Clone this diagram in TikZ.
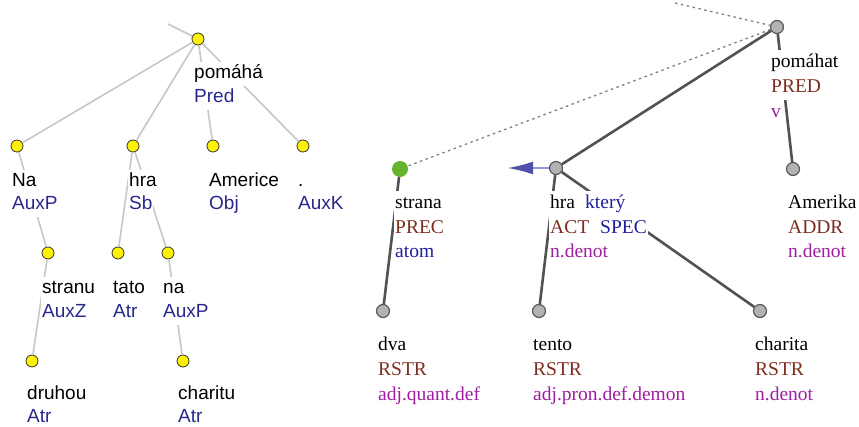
\documentclass[tikz,border=0pt]{standalone}
\usepackage{fontspec}
\usetikzlibrary{arrows.meta}
\newfontfamily\asans{Liberation Sans}
\newfontfamily\tserif{Liberation Serif}
\definecolor{afunblue}{RGB}{40,40,140}
\definecolor{funcbrown}{RGB}{125,45,30}
\definecolor{gramviolet}{RGB}{160,30,160}
\definecolor{attrblue}{RGB}{30,30,160}
\definecolor{nodegreen}{RGB}{100,180,45}
\definecolor{arrshaft}{RGB}{150,150,210}
\definecolor{arrhead}{RGB}{80,80,170}
\tikzset{
  anode/.style={circle,draw=black!80,fill=yellow,line width=0.8pt,minimum size=12pt,inner sep=0pt},
  tnode/.style={circle,draw=black!65,fill=black!30,line width=1.2pt,minimum size=13pt,inner sep=0pt},
  gnode/.style={circle,fill=nodegreen,minimum size=16pt,inner sep=0pt},
  aedge/.style={draw=black!22,line width=1.6pt},
  tedge/.style={draw=black!68,line width=2.6pt},
  dedge/.style={draw=black!50,line width=1.3pt,dash pattern=on 2.5pt off 3.5pt},
  alab/.style={anchor=base west,fill=white,inner xsep=1pt,inner ysep=2.5pt,text height=14pt,text depth=5pt,
    font=\asans\fontsize{19}{24}\selectfont},
  tlab/.style={anchor=base west,fill=white,inner xsep=1pt,inner ysep=2.25pt,text height=15pt,text depth=5.5pt,
    font=\tserif\fontsize{19.5}{25}\selectfont},
}
\begin{document}
\begin{tikzpicture}[x=1pt,y=-1pt]
  \useasboundingbox[fill=white] (0,0) rectangle (859,426);
  % analytical tree
  \coordinate (atop) at (168,24);
  \node[anode] (pomaha) at (198,39) {};
  \node[anode] (na) at (17,146) {};
  \node[anode] (hra) at (133,146) {};
  \node[anode] (americe) at (213,146) {};
  \node[anode] (tecka) at (303,146) {};
  \node[anode] (stranu) at (48,253) {};
  \node[anode] (tato) at (118,253) {};
  \node[anode] (nap) at (168,253) {};
  \node[anode] (druhou) at (32,361) {};
  \node[anode] (charitu) at (183,361) {};
  \draw[aedge] (atop) -- (pomaha);
  \foreach \c in {na,hra,americe,tecka} \draw[aedge] (pomaha) -- (\c);
  \draw[aedge] (na) -- (stranu);
  \draw[aedge] (stranu) -- (druhou);
  \draw[aedge] (hra) -- (tato);
  \draw[aedge] (hra) -- (nap);
  \draw[aedge] (nap) -- (charitu);
  \node[alab] (l-pomaha) at (193,78) {pomáhá};
  \node[alab,text=afunblue] (f-pomaha) at (193,102) {Pred};
  \node[alab] (l-na) at (11,186) {Na};
  \node[alab,text=afunblue] (f-na) at (11,209) {AuxP};
  \node[alab] (l-hra) at (128,186) {hra};
  \node[alab,text=afunblue] (f-hra) at (128,209) {Sb};
  \node[alab] (l-americe) at (208,186) {Americe};
  \node[alab,text=afunblue] (f-americe) at (208,209) {Obj};
  \node[alab] (l-tecka) at (297,186) {.};
  \node[alab,text=afunblue] (f-tecka) at (297,209) {AuxK};
  \node[alab] (l-stranu) at (41,293) {stranu};
  \node[alab,text=afunblue] (f-stranu) at (41,317) {AuxZ};
  \node[alab] (l-tato) at (112,293) {tato};
  \node[alab,text=afunblue] (f-tato) at (112,317) {Atr};
  \node[alab] (l-nap) at (162,293) {na};
  \node[alab,text=afunblue] (f-nap) at (162,317) {AuxP};
  \node[alab] (l-druhou) at (26,399) {druhou};
  \node[alab,text=afunblue] (f-druhou) at (26,422) {Atr};
  \node[alab] (l-charitu) at (177,399) {charitu};
  \node[alab,text=afunblue] (f-charitu) at (177,422) {Atr};
  % tectogrammatical tree
  \coordinate (ttop) at (675,3);
  \coordinate (korefend) at (507,168);
  \node[tnode] (pomahat) at (777,27) {};
  \node[gnode] (strana) at (400,169) {};
  \node[tnode] (hrat) at (556,168) {};
  \node[tnode] (amerika) at (793,169) {};
  \node[tnode] (dva) at (383,311) {};
  \node[tnode] (tento) at (539,311) {};
  \node[tnode] (charita) at (760,311) {};
  \draw[dedge] (ttop) -- (pomahat);
  \draw[dedge] (pomahat) -- (strana);
  \draw[tedge] (pomahat) -- (hrat);
  \draw[tedge] (pomahat) -- (amerika);
  \draw[tedge] (strana) -- (dva);
  \draw[tedge] (hrat) -- (tento);
  \draw[tedge] (hrat) -- (charita);
  \draw[draw=arrshaft,line width=2.5pt,-{Latex[length=26pt,width=13pt,color=arrhead]}] (hrat) -- (korefend);
  \node[tlab] (t-pomahat) at (770,67) {pomáhat};
  \node[tlab,text=funcbrown] (fn-pomahat) at (770,92) {PRED};
  \node[tlab,text=gramviolet] (g-pomahat) at (770,117) {v};
  \node[tlab] (t-strana) at (394,208) {strana};
  \node[tlab,text=funcbrown] (fn-strana) at (394,233) {PREC};
  \node[tlab,text=attrblue] (g-strana) at (394,257) {atom};
  \node[tlab] (t-hra) at (549,208) {hra};
  \node[tlab,text=attrblue] (k-hra) at (584,208) {který};
  \node[tlab,text=funcbrown] (fn-hra) at (549,233) {ACT};
  \node[tlab,text=attrblue] (s-hra) at (599,233) {SPEC};
  \node[tlab,text=gramviolet] (g-hra) at (549,257) {n.denot};
  \node[tlab] (t-amerika) at (787,208) {Amerika};
  \node[tlab,text=funcbrown] (fn-amerika) at (787,233) {ADDR};
  \node[tlab,text=gramviolet] (g-amerika) at (787,257) {n.denot};
  \node[tlab] (t-dva) at (377,350) {dva};
  \node[tlab,text=funcbrown] (fn-dva) at (377,375) {RSTR};
  \node[tlab,text=gramviolet] (g-dva) at (377,400) {adj.quant.def};
  \node[tlab] (t-tento) at (532,350) {tento};
  \node[tlab,text=funcbrown] (fn-tento) at (532,375) {RSTR};
  \node[tlab,text=gramviolet] (g-tento) at (532,400) {adj.pron.def.demon};
  \node[tlab] (t-charita) at (754,350) {charita};
  \node[tlab,text=funcbrown] (fn-charita) at (754,375) {RSTR};
  \node[tlab,text=gramviolet] (g-charita) at (754,400) {n.denot};
\end{tikzpicture}
\end{document}
